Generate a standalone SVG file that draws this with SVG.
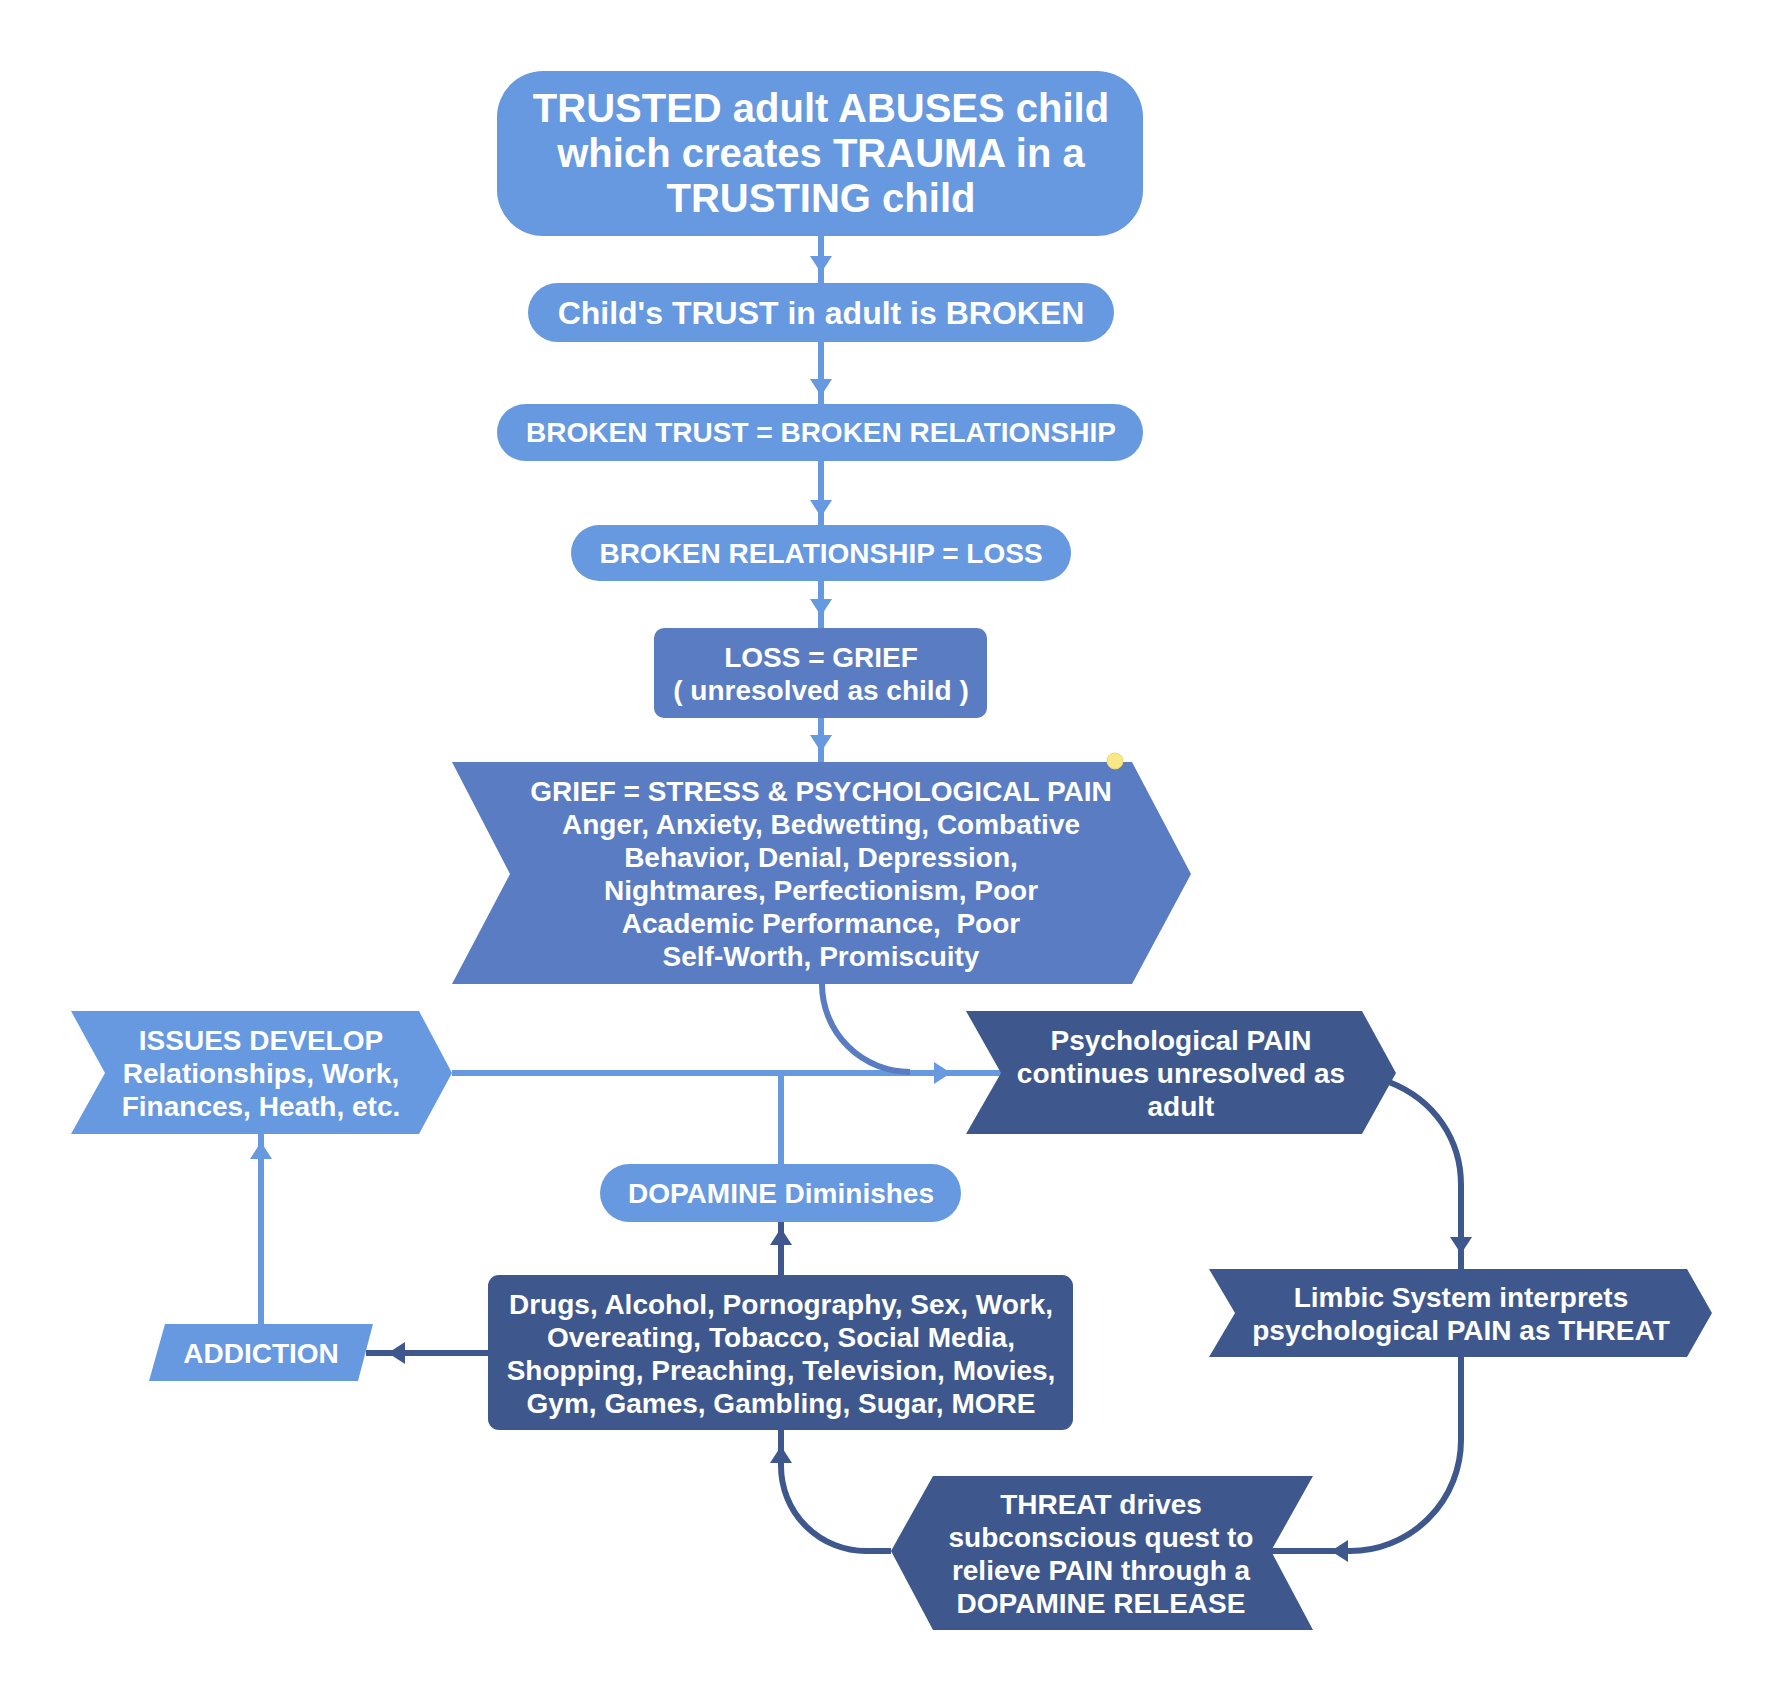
<svg xmlns="http://www.w3.org/2000/svg" xmlns:xlink="http://www.w3.org/1999/xlink" width="1784" height="1702" viewBox="0 0 1784 1702">
<style>
.lt{fill:#6699e0}
.md{fill:#5a7cc2}
.dk{fill:#3e588e}
text{font-family:"Liberation Sans",Arial,Helvetica,sans-serif;font-weight:bold;fill:#ffffff;text-anchor:middle}
.f40{font-size:40px}
.f32{font-size:32px}
.f28{font-size:28px}
.cl{fill:none;stroke:#6699e0;stroke-width:6}
.cm{fill:none;stroke:#5a7cc2;stroke-width:6}
.cd{fill:none;stroke:#3e588e;stroke-width:6}
</style>
<defs>
<path id="ah" d="M0,0 L-17,-11 L-17,11 Z"/>
</defs>
<rect width="1784" height="1702" fill="#ffffff"/>

<g id="connectors">
  <path class="cl" d="M821,236 V283"/>
  <use xlink:href="#ah" class="lt" transform="translate(821,273) rotate(90)"/>
  <path class="cl" d="M821,342 V404"/>
  <use xlink:href="#ah" class="lt" transform="translate(821,396) rotate(90)"/>
  <path class="cl" d="M821,461 V525"/>
  <use xlink:href="#ah" class="lt" transform="translate(821,517) rotate(90)"/>
  <path class="cl" d="M821,581 V628"/>
  <use xlink:href="#ah" class="lt" transform="translate(821,616) rotate(90)"/>
  <path class="cl" d="M821,718 V762"/>
  <use xlink:href="#ah" class="lt" transform="translate(821,752) rotate(90)"/>
  <path class="cl" d="M452,1073 H1001"/>
  <path class="cl" d="M781,1164 V1073"/>
  <path class="cm" d="M822,984 A88,88 0 0 0 910,1072"/>
  <use xlink:href="#ah" class="lt" transform="translate(951,1073)"/>
  <path class="cd" d="M781,1275 V1222"/>
  <use xlink:href="#ah" class="dk" transform="translate(781,1228) rotate(-90)"/>
  <path class="cd" d="M488,1353 H366"/>
  <use xlink:href="#ah" class="dk" transform="translate(388,1353) rotate(180)"/>
  <path class="cl" d="M261,1324 V1134"/>
  <use xlink:href="#ah" class="lt" transform="translate(261,1142) rotate(-90)"/>
  <path class="cd" d="M1389,1082 C1435,1100 1461,1140 1461,1185 V1269"/>
  <use xlink:href="#ah" class="dk" transform="translate(1461,1254) rotate(90)"/>
  <path class="cd" d="M1461,1357 V1440 A111,111 0 0 1 1350,1551 H1271"/>
  <use xlink:href="#ah" class="dk" transform="translate(1331,1551) rotate(180)"/>
  <path class="cd" d="M891,1551 H866 A85,85 0 0 1 781,1466 V1430"/>
  <use xlink:href="#ah" class="dk" transform="translate(781,1446) rotate(-90)"/>
</g>

<g id="n-trusted">
  <rect class="lt" x="497" y="71" width="646" height="165" rx="46"/>
  <text class="f40" x="821" y="122">TRUSTED adult ABUSES child</text>
  <text class="f40" x="821" y="167">which creates TRAUMA in a</text>
  <text class="f40" x="821" y="212">TRUSTING child</text>
</g>
<g id="n-child">
  <rect class="lt" x="528" y="283" width="586" height="59" rx="29.5"/>
  <text class="f32" x="821" y="324">Child's TRUST in adult is BROKEN</text>
</g>
<g id="n-broken-trust">
  <rect class="lt" x="497" y="404" width="646" height="57" rx="28.5"/>
  <text class="f28" x="821" y="442">BROKEN TRUST = BROKEN RELATIONSHIP</text>
</g>
<g id="n-broken-rel">
  <rect class="lt" x="571" y="525" width="500" height="56" rx="28"/>
  <text class="f28" x="821" y="563">BROKEN RELATIONSHIP = LOSS</text>
</g>
<g id="n-loss">
  <rect class="md" x="654" y="628" width="333" height="90" rx="10"/>
  <text class="f28" x="821" y="667">LOSS = GRIEF</text>
  <text class="f28" x="821" y="700">( unresolved as child )</text>
</g>
<g id="n-grief">
  <polygon class="md" points="452,762 1132,762 1191,874 1132,984 452,984 510,874"/>
  <text class="f28" x="821" y="801">GRIEF = STRESS &amp; PSYCHOLOGICAL PAIN</text>
  <text class="f28" x="821" y="834">Anger, Anxiety, Bedwetting, Combative</text>
  <text class="f28" x="821" y="867">Behavior, Denial, Depression,</text>
  <text class="f28" x="821" y="900">Nightmares, Perfectionism, Poor</text>
  <text class="f28" x="821" y="933" xml:space="preserve">Academic Performance,  Poor</text>
  <text class="f28" x="821" y="966">Self-Worth, Promiscuity</text>
  <circle cx="1115" cy="761" r="8" fill="#f8e88a" stroke="#f0d860" stroke-width="1"/>
</g>
<g id="n-issues">
  <polygon class="lt" points="71,1011 419,1011 452,1073 419,1134 71,1134 105,1073"/>
  <text class="f28" x="261" y="1050">ISSUES DEVELOP</text>
  <text class="f28" x="261" y="1083">Relationships, Work,</text>
  <text class="f28" x="261" y="1116">Finances, Heath, etc.</text>
</g>
<g id="n-psych">
  <polygon class="dk" points="966,1011 1362,1011 1396,1073 1362,1134 966,1134 1001,1073"/>
  <text class="f28" x="1181" y="1050">Psychological PAIN</text>
  <text class="f28" x="1181" y="1083">continues unresolved as</text>
  <text class="f28" x="1181" y="1116">adult</text>
</g>
<g id="n-dopamine">
  <rect class="lt" x="600" y="1164" width="361" height="58" rx="29"/>
  <text class="f28" x="781" y="1203">DOPAMINE Diminishes</text>
</g>
<g id="n-drugs">
  <rect class="dk" x="488" y="1275" width="585" height="155" rx="11"/>
  <text class="f28" x="781" y="1314">Drugs, Alcohol, Pornography, Sex, Work,</text>
  <text class="f28" x="781" y="1347">Overeating, Tobacco, Social Media,</text>
  <text class="f28" x="781" y="1380">Shopping, Preaching, Television, Movies,</text>
  <text class="f28" x="781" y="1413">Gym, Games, Gambling, Sugar, MORE</text>
</g>
<g id="n-addiction">
  <polygon class="lt" points="165,1324 373,1324 358,1381 149,1381"/>
  <text class="f28" x="261" y="1363">ADDICTION</text>
</g>
<g id="n-limbic">
  <polygon class="dk" points="1209,1269 1687,1269 1712,1313 1687,1357 1209,1357 1235,1313"/>
  <text class="f28" x="1461" y="1307">Limbic System interprets</text>
  <text class="f28" x="1461" y="1340">psychological PAIN as THREAT</text>
</g>
<g id="n-threat">
  <polygon class="dk" points="933,1476 1313,1476 1271,1551 1313,1630 933,1630 891,1551"/>
  <text class="f28" x="1101" y="1514">THREAT drives</text>
  <text class="f28" x="1101" y="1547">subconscious quest to</text>
  <text class="f28" x="1101" y="1580">relieve PAIN through a</text>
  <text class="f28" x="1101" y="1613">DOPAMINE RELEASE</text>
</g>
</svg>
